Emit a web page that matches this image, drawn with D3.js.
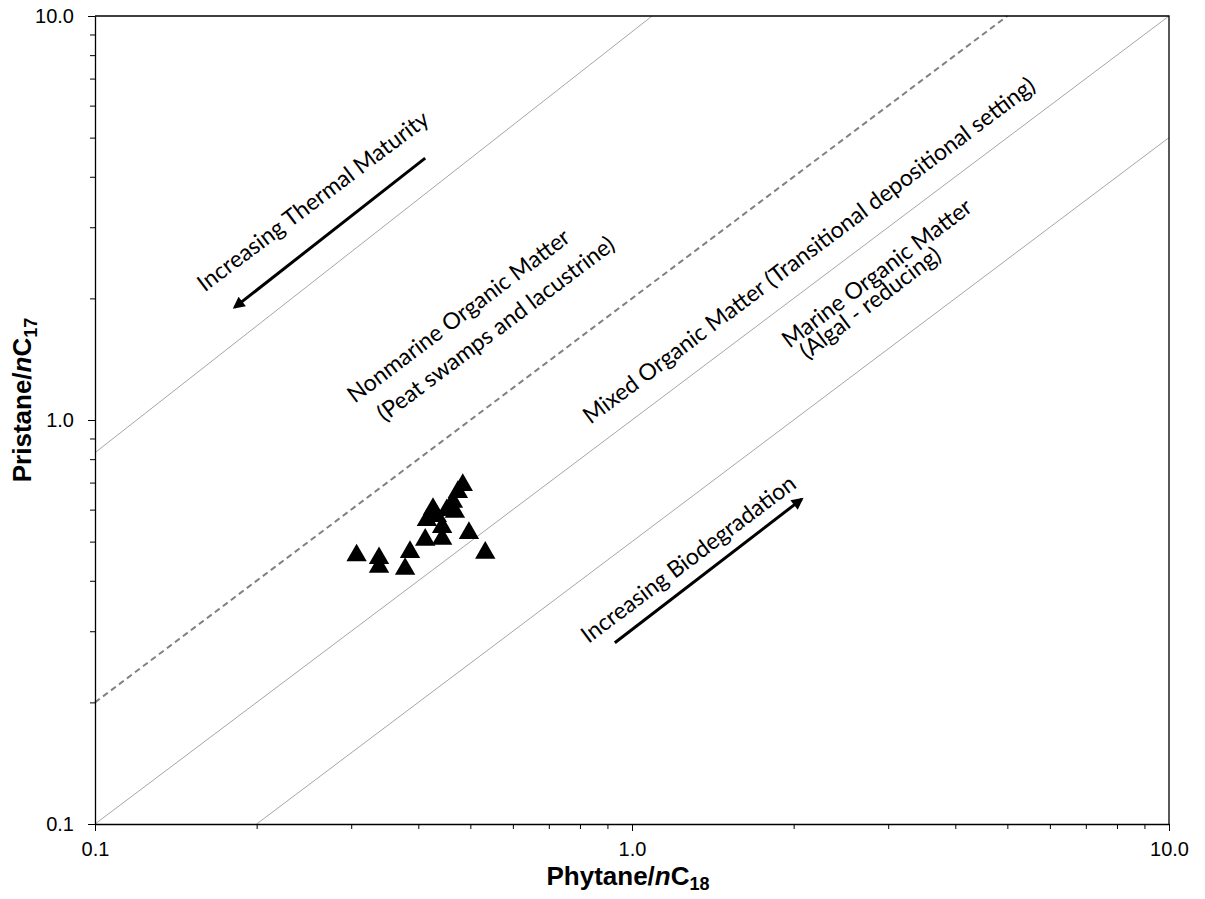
<!DOCTYPE html>
<html>
<head>
<meta charset="utf-8">
<script src="https://cdn.jsdelivr.net/npm/d3@7"></script>
<style>
  body { margin: 0; background: #fff; }
</style>
</head>
<body>
<script>
// samples: Phytane/nC18 vs Pristane/nC17
const phytane = [0.307, 0.338, 0.338, 0.386, 0.378, 0.412, 0.415, 0.426, 0.433, 0.443, 0.443, 0.452, 0.464, 0.468, 0.474, 0.484, 0.497, 0.533]
const pristane = [0.462, 0.455, 0.433, 0.471, 0.428, 0.505, 0.565, 0.602, 0.578, 0.543, 0.508, 0.598, 0.627, 0.592, 0.663, 0.69, 0.525, 0.469]

// boundary lines (start / end in data units)
const boundaryStart = [[0.1, 0.83], [0.1, 0.2], [0.1, 0.1], [0.2, 0.1]]
const boundaryEnd = [[1.09, 10], [5, 10], [10, 10], [10, 5]]

const majorTicks = [0.1, 1, 10]
const tickLabels = ['0.1', '1.0', '10.0']
const minorTicks = [0.2, 0.3, 0.4, 0.5, 0.6, 0.7, 0.8, 0.9, 2, 3, 4, 5, 6, 7, 8, 9]

const labels = [
  'Increasing Thermal Maturity',
  'Nonmarine Organic Matter',
  '(Peat swamps and lacustrine)',
  'Mixed Organic Matter (Transitional depositional setting)',
  'Marine Organic Matter',
  '(Algal - reducing)',
  'Increasing Biodegradation'
]
const labelAt = [[0.254, 3.5], [0.474, 1.82], [0.556, 1.69], [2.13, 2.64], [2.85, 2.32], [2.77, 1.96], [1.27, 0.455]]

const arrowFrom = [[0.412, 4.45], [0.929, 0.281]]
const arrowTo = [[0.182, 1.9], [2.07, 0.637]]

const width = 1190
const height = 899
const margin = { top: 16, right: 21, bottom: 75, left: 95 }

const svg = d3.select('body').append('svg')
  .attr('width', width)
  .attr('height', height)
  .attr('viewBox', [0, 0, width, height])

const x = d3.scaleLog().domain([0.1, 10]).range([margin.left, width - margin.right])
const y = d3.scaleLog().domain([0.1, 10]).range([height - margin.bottom, margin.top])

const slope = Math.atan2(y(1) - y(10), x(10) - x(1)) * 180 / Math.PI

// boundary lines
svg.append('g')
  .selectAll('line')
  .data(boundaryStart)
  .join('line')
    .attr('x1', d => x(d[0]))
    .attr('y1', d => y(d[1]))
    .attr('x2', (d, i) => x(boundaryEnd[i][0]))
    .attr('y2', (d, i) => y(boundaryEnd[i][1]))
    .attr('stroke', (d, i) => i === 1 ? '#808080' : '#a6a6a6')
    .attr('stroke-width', (d, i) => i === 1 ? 2 : 1)
    .attr('stroke-dasharray', (d, i) => i === 1 ? '6 4' : null)

// frame (top / right)
svg.append('path')
  .attr('d', `M${x(0.1)},${y(10)}H${x(10)}V${y(0.1)}`)
  .attr('fill', 'none')
  .attr('stroke', '#000')
  .attr('stroke-width', 1.3)

const styleAxis = (g) => {
  g.select('.domain').attr('stroke-width', 1.3)
  g.selectAll('.tick line').attr('stroke-width', 1)
  g.selectAll('.tick text')
    .attr('font-family', '"Liberation Sans", Arial, sans-serif')
    .attr('font-size', 20)
    .attr('fill', '#000')
}

const fmt = d => tickLabels[majorTicks.indexOf(d)]

// x axis
svg.append('g')
  .attr('transform', `translate(0,${y(0.1)})`)
  .call(d3.axisBottom(x).tickValues(minorTicks).tickSize(5).tickFormat(''))
  .call(g => g.select('.domain').remove())
svg.append('g')
  .attr('transform', `translate(0,${y(0.1)})`)
  .call(d3.axisBottom(x).tickValues(majorTicks).tickSize(7).tickSizeOuter(0).tickPadding(11).tickFormat(fmt))
  .call(styleAxis)

// y axis
svg.append('g')
  .attr('transform', `translate(${x(0.1)},0)`)
  .call(d3.axisLeft(y).tickValues(minorTicks).tickSize(5).tickFormat(''))
  .call(g => g.select('.domain').remove())
svg.append('g')
  .attr('transform', `translate(${x(0.1)},0)`)
  .call(d3.axisLeft(y).tickValues(majorTicks).tickSize(7).tickSizeOuter(0).tickPadding(14).tickFormat(fmt))
  .call(styleAxis)

// axis titles
const titleFont = '"Liberation Sans", Arial, sans-serif'
const xTitle = svg.append('text')
  .attr('x', (x(0.1) + x(10)) / 2 - 4)
  .attr('y', 885)
  .attr('text-anchor', 'middle')
  .attr('font-family', titleFont)
  .attr('font-weight', 'bold')
  .attr('font-size', 26)
xTitle.append('tspan').text('Phytane/')
xTitle.append('tspan').attr('font-style', 'italic').text('n')
xTitle.append('tspan').text('C')
xTitle.append('tspan').attr('font-size', 18).attr('dy', 5).text('18')

const yTitle = svg.append('text')
  .attr('transform', `translate(31,400) rotate(-90)`)
  .attr('text-anchor', 'middle')
  .attr('font-family', titleFont)
  .attr('font-weight', 'bold')
  .attr('font-size', 26)
yTitle.append('tspan').text('Pristane/')
yTitle.append('tspan').attr('font-style', 'italic').text('n')
yTitle.append('tspan').text('C')
yTitle.append('tspan').attr('font-size', 18).attr('dy', 6).text('17')

// annotations
svg.append('defs').append('marker')
  .attr('id', 'head')
  .attr('viewBox', '0 0 10 10')
  .attr('refX', 8)
  .attr('refY', 5)
  .attr('markerWidth', 4.5)
  .attr('markerHeight', 4)
  .attr('markerUnits', 'strokeWidth')
  .attr('orient', 'auto')
  .append('path')
    .attr('d', 'M0,0L10,5L0,10z')
    .attr('fill', '#000')

svg.append('g')
  .selectAll('line')
  .data(arrowFrom)
  .join('line')
    .attr('x1', d => x(d[0]))
    .attr('y1', d => y(d[1]))
    .attr('x2', (d, i) => x(arrowTo[i][0]))
    .attr('y2', (d, i) => y(arrowTo[i][1]))
    .attr('stroke', '#000')
    .attr('stroke-width', 3)
    .attr('marker-end', 'url(#head)')

svg.append('g')
  .selectAll('text')
  .data(labels)
  .join('text')
    .attr('transform', (d, i) => `translate(${x(labelAt[i][0])},${y(labelAt[i][1])}) rotate(${-slope})`)
    .attr('text-anchor', 'middle')
    .attr('dominant-baseline', 'central')
    .attr('font-family', 'Lato, "Open Sans", sans-serif')
    .attr('font-size', 23)
    .attr('fill', '#000')
    .text(d => d)

// samples
svg.append('g')
  .selectAll('path')
  .data(phytane)
  .join('path')
    .attr('d', d3.symbol(d3.symbolTriangle, 180))
    .attr('transform', (d, i) => `translate(${x(d)},${y(pristane[i])})`)
    .attr('fill', '#000')
</script>
</body>
</html>
